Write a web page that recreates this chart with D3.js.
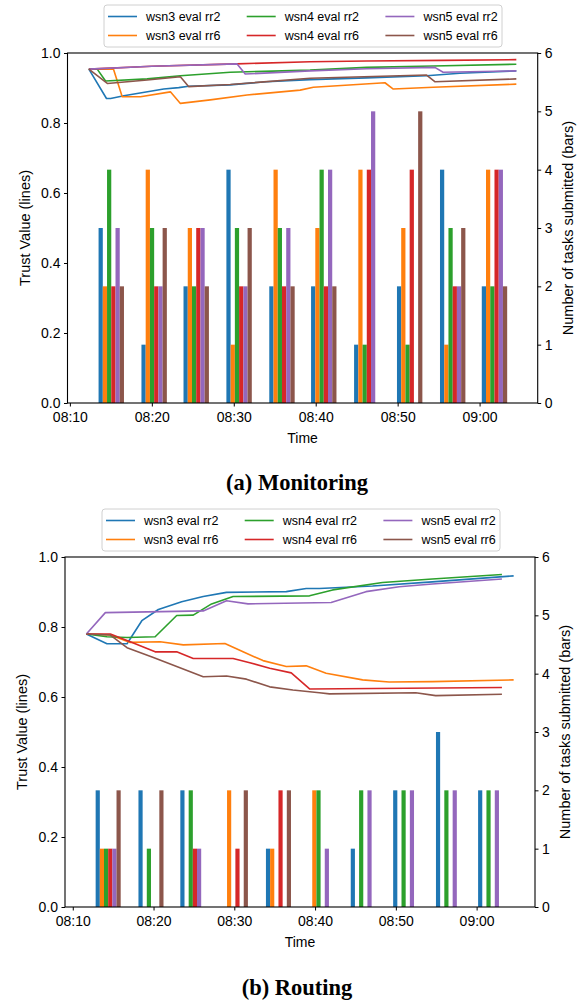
<!DOCTYPE html>
<html><head><meta charset="utf-8">
<script src="https://cdn.jsdelivr.net/npm/d3@7"></script>
<style>body{margin:0;background:#fff;} svg{display:block;}</style>
</head><body>
<svg id="c" width="580" height="1002"></svg>
<script>
// ---------- shared ----------
const seriesNames = ["wsn3 eval rr2","wsn3 eval rr6","wsn4 eval rr2","wsn4 eval rr6","wsn5 eval rr2","wsn5 eval rr6"];
const seriesColors = ["#1f77b4","#ff7f0e","#2ca02c","#d62728","#9467bd","#8c564b"];
const trustTicks = [0,0.2,0.4,0.6,0.8,1.0];
const taskTicks = [0,1,2,3,4,5,6];
const timeTickLabels = ["08:10","08:20","08:30","08:40","08:50","09:00"];
const barWidthSeconds = 31;

// ---------- (a) Monitoring: trust lines [time, value] ----------
const monWsn3Rr2 = [["08:12:19",0.954],["08:14:28",0.870],["08:14:58",0.870],["08:16:35",0.878],["08:21:27",0.897],["08:23:17",0.901],["08:24:29",0.905],["08:29:34",0.909],["08:34:00",0.918],["08:39:19",0.924],["08:46:13",0.929],["08:53:32",0.935],["08:57:35",0.942],["09:04:29",0.949]];
const monWsn3Rr6 = [["08:12:19",0.954],["08:15:19",0.954],["08:16:23",0.875],["08:18:37",0.875],["08:22:16",0.889],["08:23:29",0.856],["08:27:08",0.866],["08:31:37",0.880],["08:38:06",0.894],["08:39:43",0.902],["08:48:27",0.915],["08:49:28",0.897],["08:54:20",0.902],["09:04:29",0.911]];
const monWsn4Rr2 = [["08:12:19",0.954],["08:13:20",0.954],["08:14:21",0.920],["08:19:26",0.926],["08:23:29",0.935],["08:29:34",0.945],["08:39:19",0.951],["08:46:13",0.959],["08:54:20",0.963],["09:04:29",0.968]];
const monWsn4Rr6 = [["08:12:19",0.954],["08:20:00",0.962],["08:30:23",0.969],["08:39:19",0.975],["08:46:13",0.977],["08:55:33",0.979],["09:04:29",0.981]];
const monWsn5Rr2 = [["08:12:19",0.954],["08:20:00",0.962],["08:30:23",0.969],["08:31:24",0.940],["08:39:19",0.949],["08:46:13",0.955],["08:54:32",0.959],["08:55:33",0.945],["09:04:29",0.949]];
const monWsn5Rr6 = [["08:12:19",0.954],["08:14:34",0.913],["08:19:26",0.923],["08:23:29",0.932],["08:24:29",0.904],["08:29:34",0.910],["08:39:19",0.928],["08:53:32",0.937],["08:54:32",0.918],["09:04:29",0.926]];

// ---------- (a) Monitoring: tasks submitted (bars) ----------
const monBarTimes = ["08:15:03","08:20:17","08:25:25","08:30:39","08:35:53","08:40:59","08:46:14","08:51:28","08:56:43","09:01:49"];
const monTasksWsn3Rr2 = [3,1,2,4,2,2,1,2,4,2];
const monTasksWsn3Rr6 = [2,4,3,1,4,3,4,3,1,4];
const monTasksWsn4Rr2 = [4,3,2,3,3,4,1,1,3,2];
const monTasksWsn4Rr6 = [2,2,3,2,2,2,4,4,2,4];
const monTasksWsn5Rr2 = [3,2,3,2,3,4,5,0,2,4];
const monTasksWsn5Rr6 = [2,3,2,3,2,2,0,5,3,2];

// ---------- (b) Routing: trust lines ----------
const rouWsn3Rr2 = [["08:11:41",0.780],["08:14:14",0.752],["08:16:43",0.752],["08:18:33",0.818],["08:20:36",0.850],["08:23:29",0.872],["08:26:09",0.887],["08:29:02",0.899],["08:36:26",0.901],["08:38:54",0.910],["08:40:32",0.910],["08:47:07",0.917],["08:54:31",0.929],["09:04:35",0.946]];
const rouWsn3Rr6 = [["08:11:41",0.780],["08:14:39",0.777],["08:17:07",0.756],["08:20:49",0.758],["08:23:41",0.749],["08:28:50",0.753],["08:31:05",0.729],["08:33:33",0.704],["08:36:26",0.687],["08:38:54",0.689],["08:41:22",0.668],["08:45:53",0.649],["08:49:10",0.643],["08:54:31",0.644],["09:04:35",0.649]];
const rouWsn4Rr2 = [["08:11:41",0.780],["08:14:14",0.772],["08:16:43",0.770],["08:20:12",0.772],["08:22:52",0.833],["08:24:55",0.834],["08:27:11",0.866],["08:29:51",0.887],["08:39:19",0.889],["08:42:11",0.906],["08:48:21",0.927],["08:54:31",0.937],["09:03:08",0.950]];
const rouWsn4Rr6 = [["08:11:41",0.780],["08:14:39",0.780],["08:17:07",0.758],["08:20:12",0.729],["08:22:52",0.729],["08:24:55",0.710],["08:29:51",0.710],["08:31:55",0.698],["08:34:23",0.682],["08:37:03",0.669],["08:39:19",0.623],["09:03:08",0.627]];
const rouWsn5Rr2 = [["08:11:41",0.780],["08:14:02",0.841],["08:26:09",0.846],["08:29:02",0.875],["08:31:42",0.866],["08:41:59",0.870],["08:46:18",0.901],["08:50:25",0.915],["08:54:31",0.923],["09:03:08",0.937]];
const rouWsn5Rr6 = [["08:11:41",0.780],["08:14:39",0.777],["08:16:43",0.741],["08:19:59",0.713],["08:26:09",0.658],["08:29:02",0.660],["08:31:30",0.651],["08:34:23",0.629],["08:37:15",0.620],["08:40:32",0.612],["08:41:47",0.609],["08:52:28",0.612],["08:54:56",0.604],["09:03:08",0.608]];

// ---------- (b) Routing: tasks submitted ----------
const rouBarTimes = ["08:14:23","08:19:41","08:24:52","08:30:08","08:35:28","08:40:41","08:45:58","08:51:13","08:56:31","09:01:44"];
const rouTasksWsn3Rr2 = [2,2,2,0,1,0,1,2,3,2];
const rouTasksWsn3Rr6 = [1,0,0,2,1,2,0,0,0,0];
const rouTasksWsn4Rr2 = [1,1,2,0,0,2,2,2,2,2];
const rouTasksWsn4Rr6 = [1,0,1,1,2,0,0,0,0,0];
const rouTasksWsn5Rr2 = [1,0,1,0,0,1,2,2,2,2];
const rouTasksWsn5Rr6 = [2,2,0,2,2,0,0,0,0,0];

const captions = ["(a) Monitoring","(b) Routing"];

// ---------- drawing ----------
const svg = d3.select("#c");
const parseT = d3.timeParse("%H:%M:%S");
const parseHM = d3.timeParse("%H:%M");
const SANS = "'Liberation Sans', Arial, sans-serif";
const SERIF = "'Liberation Serif', 'Times New Roman', serif";

function drawPanel(p) {
  const g = svg.append("g");
  const times = p.lines.flat().map(d => parseT(d[0]));
  const ext = d3.extent(times);
  const pad = (ext[1] - ext[0]) * 0.05;
  const x = d3.scaleTime().domain([new Date(+ext[0] - pad), new Date(+ext[1] + pad)]).range([p.left, p.right]);
  const y = d3.scaleLinear().domain([0, 1]).range([p.bottom, p.top]);
  const y2 = d3.scaleLinear().domain([0, 6]).range([p.bottom, p.top]);
  const bw = barWidthSeconds * 1000;

  // bars
  p.bars.forEach((vals, i) => {
    g.append("g").selectAll("rect")
      .data(vals.map((v, k) => ({ t: parseT(p.barTimes[k]), v })))
      .enter().append("rect")
      .attr("x", d => x(new Date(+d.t + (i - 3) * bw)))
      .attr("width", d => x(new Date(+d.t + (i - 2) * bw)) - x(new Date(+d.t + (i - 3) * bw)))
      .attr("y", d => y2(d.v))
      .attr("height", d => y2(0) - y2(d.v))
      .attr("fill", seriesColors[i]);
  });

  // lines
  const line = d3.line().x(d => x(parseT(d[0]))).y(d => y(d[1]));
  p.lines.forEach((s, i) => {
    g.append("path").datum(s).attr("d", line)
      .attr("fill", "none").attr("stroke", seriesColors[i])
      .attr("stroke-width", 1.6).attr("stroke-linejoin", "round");
  });

  // axes
  const styleAxis = sel => {
    sel.select(".domain").remove();
    sel.selectAll("line").attr("stroke", "#000").attr("stroke-width", 1);
    sel.selectAll("text").attr("font-family", SANS).attr("font-size", 14).attr("fill", "#000");
  };
  g.append("g").attr("transform", `translate(0,${p.bottom})`)
    .call(d3.axisBottom(x).tickValues(timeTickLabels.map(parseHM)).tickFormat(d3.timeFormat("%H:%M")).tickSize(3.5).tickPadding(6))
    .call(styleAxis);
  g.append("g").attr("transform", `translate(${p.left},0)`)
    .call(d3.axisLeft(y).tickValues(trustTicks).tickFormat(d3.format(".1f")).tickSize(3.5).tickPadding(3.5))
    .call(styleAxis);
  g.append("g").attr("transform", `translate(${p.right},0)`)
    .call(d3.axisRight(y2).tickValues(taskTicks).tickFormat(d3.format("d")).tickSize(3.5).tickPadding(3.5))
    .call(styleAxis);

  // frame
  g.append("rect").attr("x", p.left).attr("y", p.top)
    .attr("width", p.right - p.left).attr("height", p.bottom - p.top)
    .attr("fill", "none").attr("stroke", "#000").attr("stroke-width", 1.1);

  // axis labels
  g.append("text").attr("x", (p.left + p.right) / 2).attr("y", p.bottom + 40)
    .attr("text-anchor", "middle").attr("font-family", SANS).attr("font-size", 14).text("Time");
  g.append("text").attr("transform", `translate(${p.left - 43},${(p.top + p.bottom) / 2}) rotate(-90)`)
    .attr("text-anchor", "middle").attr("dominant-baseline", "central")
    .attr("font-family", SANS).attr("font-size", 14.5).text("Trust Value (lines)");
  g.append("text").attr("transform", `translate(${p.right + 30},${(p.top + p.bottom) / 2}) rotate(-90)`)
    .attr("text-anchor", "middle").attr("dominant-baseline", "central")
    .attr("font-family", SANS).attr("font-size", 14.5).text("Number of tasks submitted (bars)");

  // caption
  g.append("text").attr("x", 297).attr("y", p.captionY)
    .attr("text-anchor", "middle").attr("font-family", SERIF).attr("font-weight", "bold")
    .attr("font-size", 22.5).text(p.caption);

  // legend
  const lg = g.append("g").attr("transform", `translate(${p.legendX},${p.legendY})`);
  lg.append("rect").attr("x", 0).attr("y", 0).attr("width", 398).attr("height", 42)
    .attr("rx", 3).attr("fill", "#fff").attr("fill-opacity", 0.8)
    .attr("stroke", "#d0d0d0").attr("stroke-width", 1);
  seriesNames.forEach((name, i) => {
    const col = Math.floor(i / 2), row = i % 2;
    const ex = 4 + col * 138.7, ey = 11.5 + row * 19;
    lg.append("line").attr("x1", ex).attr("x2", ex + 29).attr("y1", ey).attr("y2", ey)
      .attr("stroke", seriesColors[i]).attr("stroke-width", 1.6);
    lg.append("text").attr("x", ex + 38).attr("y", ey).attr("dominant-baseline", "central")
      .attr("font-family", SANS).attr("font-size", 12.5).text(name);
  });
}

drawPanel({
  left: 67.5, right: 537.7, top: 53, bottom: 403,
  lines: [monWsn3Rr2, monWsn3Rr6, monWsn4Rr2, monWsn4Rr6, monWsn5Rr2, monWsn5Rr6],
  barTimes: monBarTimes,
  bars: [monTasksWsn3Rr2, monTasksWsn3Rr6, monTasksWsn4Rr2, monTasksWsn4Rr6, monTasksWsn5Rr2, monTasksWsn5Rr6],
  legendX: 104, legendY: 5, caption: captions[0], captionY: 490
});
drawPanel({
  left: 65, right: 535, top: 557, bottom: 907,
  lines: [rouWsn3Rr2, rouWsn3Rr6, rouWsn4Rr2, rouWsn4Rr6, rouWsn5Rr2, rouWsn5Rr6],
  barTimes: rouBarTimes,
  bars: [rouTasksWsn3Rr2, rouTasksWsn3Rr6, rouTasksWsn4Rr2, rouTasksWsn4Rr6, rouTasksWsn5Rr2, rouTasksWsn5Rr6],
  legendX: 102, legendY: 509, caption: captions[1], captionY: 995
});
</script>
</body></html>
